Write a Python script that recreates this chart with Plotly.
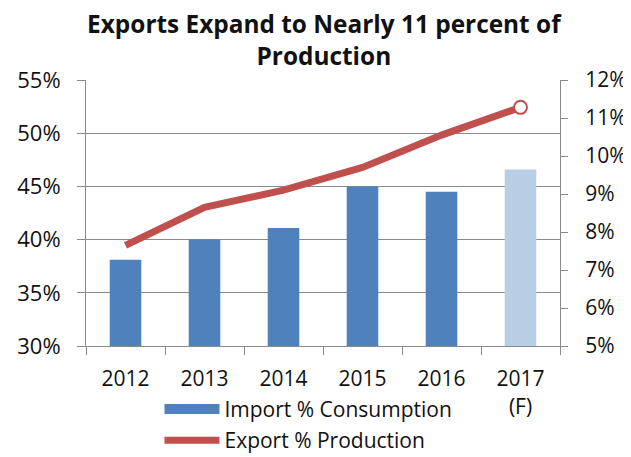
import plotly.graph_objects as go

years = ["2012", "2013", "2014", "2015", "2016", "2017<br>(F)"]
import_pct = [38.1, 40.0, 41.1, 45.0, 44.5, 46.6]
export_pct = [7.65, 8.65, 9.1, 9.7, 10.55, 11.28]
bar_colors = ["#4F81BD"] * 5 + ["#B9CDE5"]

FONT = "Open Sans"
TXT = "#111111"
AX = "#8a8a8a"
fig = go.Figure()
fig.add_trace(go.Bar(
    x=years, y=import_pct, name="Import % Consumption",
    marker=dict(color=bar_colors, line=dict(width=0)), width=0.4,
    yaxis="y", showlegend=False,
))
# legend-only entry giving the wide blue rectangle key
fig.add_trace(go.Scatter(
    x=[None], y=[None], name="Import % Consumption", mode="lines",
    line=dict(color="#4F81BD", width=12), legendgroup="a",
))
fig.add_trace(go.Scatter(
    x=years, y=export_pct, name="Export % Production", mode="lines",
    line=dict(color="#C0504D", width=7), yaxis="y2", legendgroup="b",
))
fig.add_trace(go.Scatter(
    x=years[-1:], y=export_pct[-1:], mode="markers", showlegend=False,
    marker=dict(color="white", size=13, line=dict(color="#C0504D", width=2)),
    yaxis="y2",
))

# page body has an 8px margin, so the figure is shrunk/offset to fit the window
fig.update_layout(
    width=623, height=449,
    margin=dict(l=78, r=71, t=72, b=111, autoexpand=False),
    paper_bgcolor="white", plot_bgcolor="white",
    font=dict(family=FONT, size=22, color=TXT),
    title=dict(text="<b>Exports Expand to Nearly 11 percent of<br>Production</b>",
               x=0.507, xanchor="center", y=0.944, yanchor="top",
               font=dict(family=FONT, size=24.4, color=TXT)),
    showlegend=True,
    legend=dict(x=0.155, y=0.152, yref="container", xanchor="left", yanchor="top",
                orientation="v", itemwidth=55, font=dict(size=21),
                tracegroupgap=1, bgcolor="rgba(0,0,0,0)"),
    xaxis=dict(type="category", showline=True, linecolor=AX, linewidth=1,
               ticks="outside", tickson="boundaries", ticklen=8, tickcolor=AX,
               showgrid=False, ticklabelstandoff=14, automargin=False,
               tickfont=dict(size=21)),
    yaxis=dict(range=[30, 55], dtick=5, ticksuffix="%", showline=True,
               linecolor=AX, linewidth=1, ticks="outside", ticklen=8,
               tickcolor=AX, showgrid=True, gridcolor=AX, gridwidth=1,
               zeroline=False, ticklabelstandoff=12, automargin=False),
    yaxis2=dict(range=[5, 12], dtick=1, ticksuffix="%", overlaying="y", side="right",
                showline=True, linecolor=AX, linewidth=1, ticks="outside",
                ticklen=7, tickcolor=AX, showgrid=False, zeroline=False,
                ticklabelstandoff=13, automargin=False, tickfont=dict(size=21)),
)

fig.write_html("out.html")
